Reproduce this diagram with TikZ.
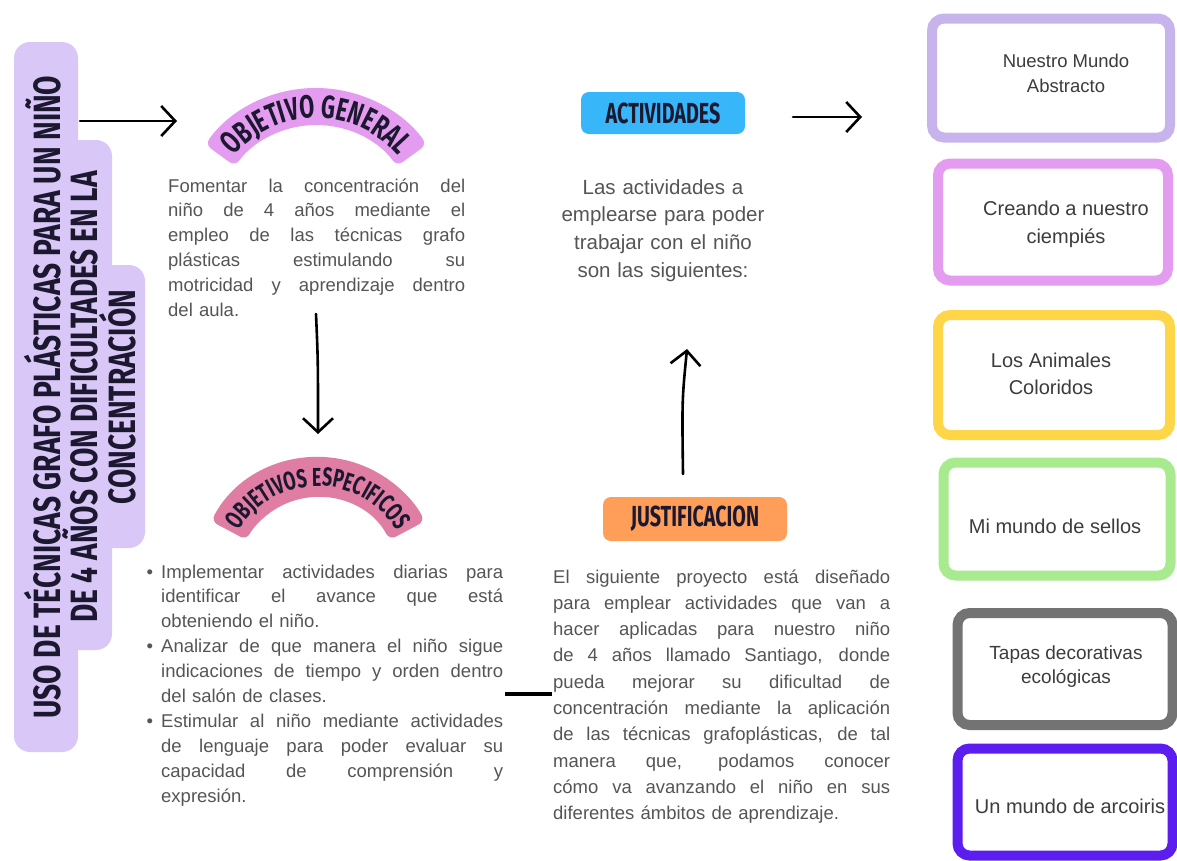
\documentclass[tikz,border=0pt]{standalone}
\usepackage{fontspec}
\setmainfont{Liberation Sans}
\newfontfamily\titlefont[FakeStretch=0.68]{Fira Sans}
\newfontfamily\bigtitlefont[FakeStretch=0.74]{Fira Sans}
\usetikzlibrary{arrows.meta,decorations.text}
\definecolor{titlebg}{RGB}{217,200,247}
\definecolor{ogband}{RGB}{228,156,240}
\definecolor{oeband}{RGB}{224,125,162}
\definecolor{actbg}{RGB}{56,182,250}
\definecolor{jusbg}{RGB}{255,158,88}
\definecolor{bodytxt}{RGB}{85,85,85}
\definecolor{boxtxt}{RGB}{60,60,60}
\definecolor{ink}{RGB}{28,24,48}
\definecolor{bxa}{RGB}{200,180,236}
\definecolor{bxb}{RGB}{228,156,240}
\definecolor{bxc}{RGB}{255,214,72}
\definecolor{bxd}{RGB}{168,234,142}
\definecolor{bxe}{RGB}{115,115,115}
\definecolor{bxf}{RGB}{92,30,240}
\newcommand\jline[1]{\hbox to\hsize{\spaceskip=0.278em plus 1fil\relax#1}}
\newcommand\lline[1]{\hbox to\hsize{#1\hfil}}
\newcommand\bline[1]{\hbox to\hsize{\llap{\textbullet\hspace{8pt}}\spaceskip=0.278em plus 1fil\relax#1}}
\newcommand\bandfontA{\titlefont\bfseries\fontsize{32}{32}\selectfont}
\newcommand\bandfontB{\titlefont\bfseries\fontsize{26}{26}\selectfont}
\begin{document}
\begin{tikzpicture}[x=1pt,y=-1pt,
  body/.style={inner sep=0pt, text=bodytxt, font=\fontsize{18.5}{24.8}\selectfont},
  banner/.style={inner sep=0pt, rounded corners=8pt, text=ink, font=\titlefont\bfseries\fontsize{29}{29}\selectfont},
  boxframe/.style={draw, line width=10pt, rounded corners=12pt, inner sep=0pt},
  boxtext/.style={inner sep=0pt, text=boxtxt, align=center},
  arr/.style={line width=2.6pt, line cap=round, -{Straight Barb[length=14pt,width=30pt]}},
  titletext/.style={inner sep=0pt, text=ink, align=center, font=\bigtitlefont\bfseries\fontsize{38}{34}\selectfont}
]
\useasboundingbox (0,0) rectangle (1177,860);
\fill[white] (0,0) rectangle (1177,860);

% title shape
\fill[titlebg, rounded corners=16pt] (14,42) rectangle (78,752);
\fill[titlebg, rounded corners=16pt] (14,140) rectangle (112,650);
\fill[titlebg, rounded corners=16pt] (14,265) rectangle (145,548);
\node[titletext, rotate=90] (title) at (80,397) {USO DE TÉCNICAS GRAFO PLÁSTICAS PARA UN NIÑO\\DE 4 AÑOS CON DIFICULTADES EN LA\\CONCENTRACIÓN};

% objetivo general band
\fill[ogband, rounded corners=7pt] (316,225) ++(-144:137) arc[start angle=-144, end angle=-36, radius=137] -- ++(-36:-37) arc[start angle=-36, end angle=-144, radius=100] -- cycle;
\path[decorate, decoration={text along path, text={|\bandfontA|OBJETIVO GENERAL}, text align=center, text color=ink}] (316,225) ++(-170:107) arc[start angle=-170, end angle=-10, radius=107];
\node[inner sep=0pt] (og) at (316,125) {};

% objetivos especificos band
\fill[oeband, rounded corners=7pt] (318,578) ++(-152:121) arc[start angle=-152, end angle=-28, radius=121] -- ++(-28:-40) arc[start angle=-28, end angle=-152, radius=81] -- cycle;
\path[decorate, decoration={text along path, text={|\bandfontB|OBJETIVOS ESPECIFICOS}, text align=center, text color=ink}] (318,578) ++(-175:92) arc[start angle=-175, end angle=-5, radius=92];
\node[inner sep=0pt] (oe) at (318,478) {};

% labels
\node[banner, fill=actbg, minimum width=164pt, minimum height=42pt] (act) at (663,113) {ACTIVIDADES};
\node[banner, fill=jusbg, minimum width=184pt, minimum height=44pt] (jus) at (695,519) {JUSTIFICACION};

% texts
\node[body, text width=297pt, anchor=base west] (ogtext) at (168,192) {\vtop{%
\jline{Fomentar la concentración del}%
\jline{niño de 4 años mediante el}%
\jline{empleo de las técnicas grafo}%
\jline{plásticas estimulando su}%
\jline{motricidad y aprendizaje dentro}%
\lline{del aula.}}};

\node[body, text width=342pt, anchor=base west, font=\fontsize{18.5}{24.9}\selectfont] (oetext) at (161,578) {\vtop{%
\bline{Implementar actividades diarias para}%
\jline{identificar el avance que está}%
\lline{obteniendo el niño.}%
\bline{Analizar de que manera el niño sigue}%
\jline{indicaciones de tiempo y orden dentro}%
\lline{del salón de clases.}%
\bline{Estimular al niño mediante actividades}%
\jline{de lenguaje para poder evaluar su}%
\jline{capacidad de comprensión y}%
\lline{expresión.}}};

\node[body, text width=337pt, anchor=base west, font=\fontsize{18.5}{26.3}\selectfont] (justext) at (553,583) {\vtop{%
\jline{El siguiente proyecto está diseñado}%
\jline{para emplear actividades que van a}%
\jline{hacer aplicadas para nuestro niño}%
\jline{de 4 años llamado Santiago, donde}%
\jline{pueda mejorar su dificultad de}%
\jline{concentración mediante la aplicación}%
\jline{de las técnicas grafoplásticas, de tal}%
\jline{manera que, podamos conocer}%
\jline{cómo va avanzando el niño en sus}%
\lline{diferentes ámbitos de aprendizaje.}}};

\node[body, text width=260pt, align=center, anchor=base, font=\fontsize{20.5}{27.7}\selectfont] (acttext) at (663,194) {Las actividades a\\emplearse para poder\\trabajar con el niño\\son las siguientes:};

% activity boxes
\node[boxframe, draw=bxa, minimum width=238pt, minimum height=119pt] (box1) at (1051,78) {};
\node[boxframe, draw=bxb, minimum width=230pt, minimum height=117pt] (box2) at (1053,222) {};
\node[boxframe, draw=bxc, minimum width=232pt, minimum height=120pt] (box3) at (1054,375) {};
\node[boxframe, draw=bxd, minimum width=227pt, minimum height=113pt] (box4) at (1057,519) {};
\node[boxframe, draw=bxe, minimum width=215pt, minimum height=112pt] (box5) at (1065,669) {};
\node[boxframe, draw=bxf, minimum width=215pt, minimum height=107pt] (box6) at (1065,802) {};

\node[boxtext, font=\fontsize{18.5}{25}\selectfont] (t1) at (1066,73) {Nuestro Mundo\\Abstracto};
\node[boxtext, font=\fontsize{20}{28}\selectfont] (t2) at (1066,224) {Creando a nuestro\\ciempiés};
\node[boxtext, font=\fontsize{20}{27}\selectfont] (t3) at (1051,374) {Los Animales\\Coloridos};
\node[boxtext, font=\fontsize{20}{27}\selectfont] (t4) at (1055,526) {Mi mundo de sellos};
\node[boxtext, font=\fontsize{19}{24}\selectfont] (t5) at (1066,667) {Tapas decorativas\\ecológicas};
\node[boxtext, font=\fontsize{20}{27}\selectfont] (t6) at (1070,806) {Un mundo de arcoiris};

% connectors
\coordinate (a1s) at (80,121);
\coordinate (a1e) at (177,121);
\draw[arr] (a1s) -- (a1e);
\coordinate (a2s) at (316,314);
\coordinate (a2e) at (318,434);
\draw[arr] (a2s) .. controls (318,360) .. (a2e);
\coordinate (a3s) at (683,474);
\coordinate (a3e) at (687,349);
\draw[arr] (a3s) .. controls (682,400) .. (a3e);
\coordinate (a4s) at (793,117);
\coordinate (a4e) at (862,117);
\draw[arr] (a4s) -- (a4e);
\coordinate (ls) at (505,694);
\coordinate (le) at (552,694);
\draw[line width=4pt] (ls) -- (le);
\end{tikzpicture}
\end{document}
